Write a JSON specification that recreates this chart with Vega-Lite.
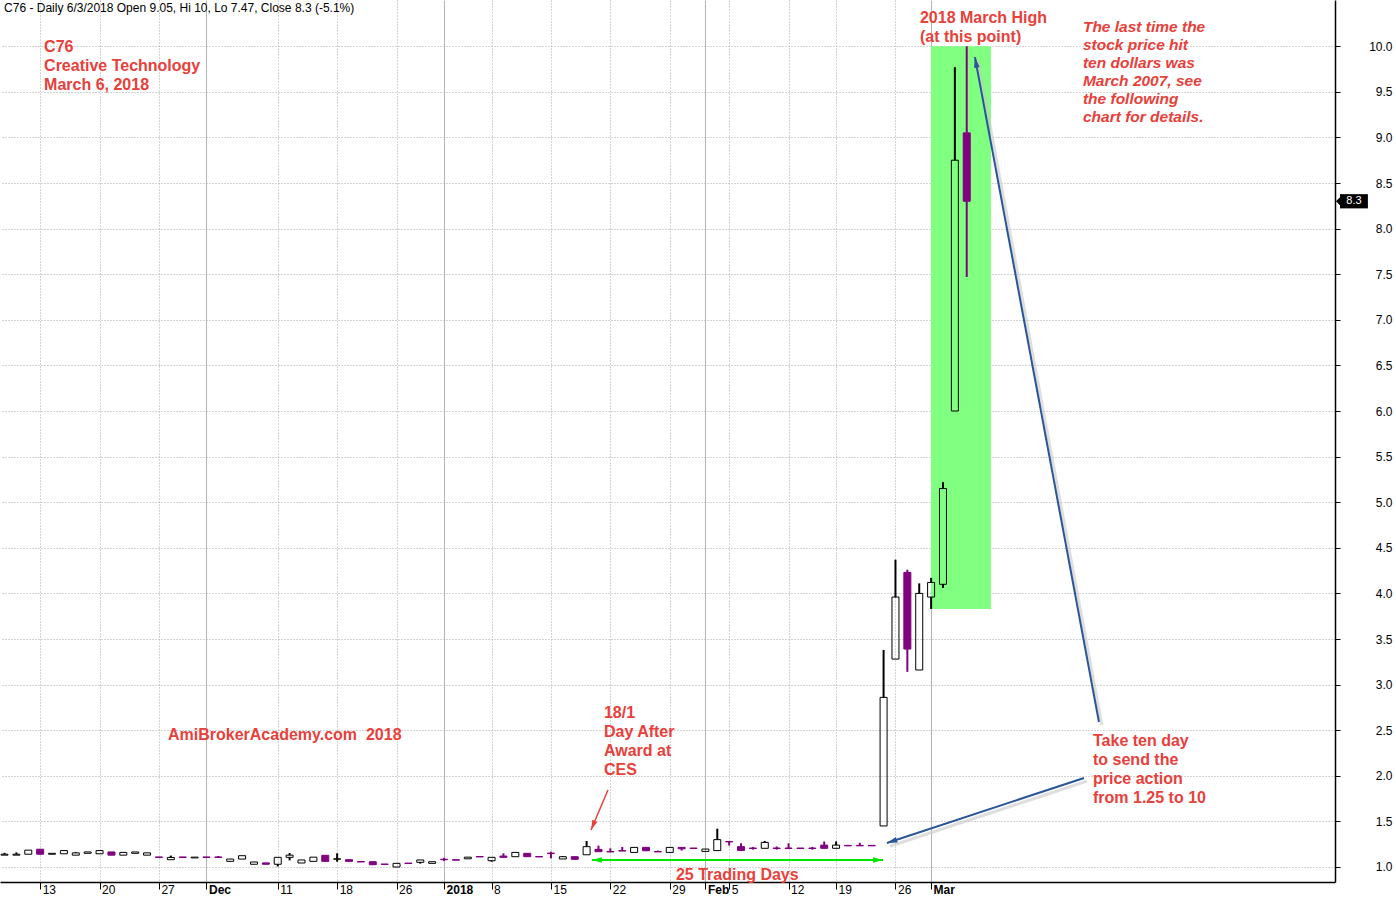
{
  "$schema": "https://vega.github.io/schema/vega-lite/v6.json",
  "width": 1335,
  "height": 882,
  "autosize": "none",
  "padding": {"left": 0, "top": 0, "right": 61, "bottom": 17},
  "background": "white",
  "config": {"view": {"stroke": null}, "font": "Liberation Sans", "scale": {"continuousPadding": 0}},
  "datasets": {
    "ohlc": [
      {"i":0,"date":"2017-11-08","o":1.13,"h":1.155,"l":1.13,"c":1.14},
      {"i":1,"date":"2017-11-09","o":1.13,"h":1.16,"l":1.13,"c":1.14},
      {"i":2,"date":"2017-11-10","o":1.14,"h":1.185,"l":1.14,"c":1.185},
      {"i":3,"date":"2017-11-13","o":1.195,"h":1.195,"l":1.14,"c":1.14},
      {"i":4,"date":"2017-11-14","o":1.14,"h":1.15,"l":1.14,"c":1.15},
      {"i":5,"date":"2017-11-15","o":1.145,"h":1.18,"l":1.145,"c":1.18},
      {"i":6,"date":"2017-11-16","o":1.13,"h":1.165,"l":1.13,"c":1.155},
      {"i":7,"date":"2017-11-17","o":1.15,"h":1.165,"l":1.15,"c":1.165},
      {"i":8,"date":"2017-11-20","o":1.145,"h":1.18,"l":1.145,"c":1.18},
      {"i":9,"date":"2017-11-21","o":1.165,"h":1.165,"l":1.13,"c":1.13},
      {"i":10,"date":"2017-11-22","o":1.13,"h":1.16,"l":1.13,"c":1.16},
      {"i":11,"date":"2017-11-23","o":1.15,"h":1.165,"l":1.15,"c":1.165},
      {"i":12,"date":"2017-11-24","o":1.13,"h":1.155,"l":1.13,"c":1.155},
      {"i":13,"date":"2017-11-27","o":1.11,"h":1.11,"l":1.105,"c":1.105},
      {"i":14,"date":"2017-11-28","o":1.08,"h":1.125,"l":1.08,"c":1.105},
      {"i":15,"date":"2017-11-29","o":1.11,"h":1.11,"l":1.105,"c":1.105},
      {"i":16,"date":"2017-11-30","o":1.1,"h":1.108,"l":1.1,"c":1.108},
      {"i":17,"date":"2017-12-01","o":1.11,"h":1.11,"l":1.105,"c":1.105},
      {"i":18,"date":"2017-12-04","o":1.11,"h":1.12,"l":1.105,"c":1.105},
      {"i":19,"date":"2017-12-05","o":1.062,"h":1.087,"l":1.062,"c":1.087},
      {"i":20,"date":"2017-12-06","o":1.087,"h":1.124,"l":1.087,"c":1.124},
      {"i":21,"date":"2017-12-07","o":1.03,"h":1.055,"l":1.03,"c":1.055},
      {"i":22,"date":"2017-12-08","o":1.045,"h":1.045,"l":1.03,"c":1.03},
      {"i":23,"date":"2017-12-11","o":1.03,"h":1.106,"l":1.005,"c":1.106},
      {"i":24,"date":"2017-12-12","o":1.106,"h":1.153,"l":1.073,"c":1.13},
      {"i":25,"date":"2017-12-13","o":1.044,"h":1.077,"l":1.044,"c":1.077},
      {"i":26,"date":"2017-12-14","o":1.062,"h":1.108,"l":1.062,"c":1.108},
      {"i":27,"date":"2017-12-15","o":1.128,"h":1.128,"l":1.062,"c":1.062},
      {"i":28,"date":"2017-12-18","o":1.085,"h":1.15,"l":1.058,"c":1.09},
      {"i":29,"date":"2017-12-19","o":1.08,"h":1.08,"l":1.062,"c":1.062},
      {"i":30,"date":"2017-12-20","o":1.06,"h":1.06,"l":1.055,"c":1.055},
      {"i":31,"date":"2017-12-21","o":1.058,"h":1.058,"l":1.025,"c":1.025},
      {"i":32,"date":"2017-12-22","o":1.033,"h":1.033,"l":1.028,"c":1.028},
      {"i":33,"date":"2017-12-26","o":1.0,"h":1.04,"l":1.0,"c":1.04},
      {"i":34,"date":"2017-12-27","o":1.043,"h":1.043,"l":1.038,"c":1.038},
      {"i":35,"date":"2017-12-28","o":1.051,"h":1.077,"l":1.037,"c":1.077},
      {"i":36,"date":"2017-12-29","o":1.04,"h":1.058,"l":1.04,"c":1.058},
      {"i":37,"date":"2018-01-02","o":1.085,"h":1.1,"l":1.065,"c":1.08},
      {"i":38,"date":"2018-01-03","o":1.08,"h":1.08,"l":1.075,"c":1.075},
      {"i":39,"date":"2018-01-04","o":1.09,"h":1.108,"l":1.09,"c":1.108},
      {"i":40,"date":"2018-01-05","o":1.115,"h":1.115,"l":1.11,"c":1.11},
      {"i":41,"date":"2018-01-08","o":1.069,"h":1.106,"l":1.058,"c":1.106},
      {"i":42,"date":"2018-01-09","o":1.12,"h":1.15,"l":1.106,"c":1.106},
      {"i":43,"date":"2018-01-10","o":1.113,"h":1.16,"l":1.113,"c":1.16},
      {"i":44,"date":"2018-01-11","o":1.15,"h":1.15,"l":1.113,"c":1.113},
      {"i":45,"date":"2018-01-12","o":1.115,"h":1.115,"l":1.11,"c":1.11},
      {"i":46,"date":"2018-01-15","o":1.152,"h":1.168,"l":1.095,"c":1.148},
      {"i":47,"date":"2018-01-16","o":1.088,"h":1.12,"l":1.088,"c":1.113},
      {"i":48,"date":"2018-01-17","o":1.113,"h":1.113,"l":1.084,"c":1.084},
      {"i":49,"date":"2018-01-18","o":1.134,"h":1.285,"l":1.134,"c":1.223},
      {"i":50,"date":"2018-01-19","o":1.193,"h":1.234,"l":1.168,"c":1.168},
      {"i":51,"date":"2018-01-22","o":1.17,"h":1.205,"l":1.165,"c":1.165},
      {"i":52,"date":"2018-01-23","o":1.18,"h":1.22,"l":1.175,"c":1.175},
      {"i":53,"date":"2018-01-24","o":1.16,"h":1.215,"l":1.16,"c":1.215},
      {"i":54,"date":"2018-01-25","o":1.215,"h":1.215,"l":1.178,"c":1.178},
      {"i":55,"date":"2018-01-26","o":1.17,"h":1.18,"l":1.165,"c":1.165},
      {"i":56,"date":"2018-01-29","o":1.16,"h":1.215,"l":1.16,"c":1.215},
      {"i":57,"date":"2018-01-30","o":1.215,"h":1.215,"l":1.18,"c":1.2},
      {"i":58,"date":"2018-01-31","o":1.208,"h":1.208,"l":1.203,"c":1.203},
      {"i":59,"date":"2018-02-01","o":1.171,"h":1.197,"l":1.171,"c":1.197},
      {"i":60,"date":"2018-02-02","o":1.18,"h":1.42,"l":1.18,"c":1.3},
      {"i":61,"date":"2018-02-05","o":1.28,"h":1.28,"l":1.235,"c":1.275},
      {"i":62,"date":"2018-02-06","o":1.223,"h":1.26,"l":1.182,"c":1.182},
      {"i":63,"date":"2018-02-07","o":1.208,"h":1.22,"l":1.19,"c":1.203},
      {"i":64,"date":"2018-02-08","o":1.205,"h":1.285,"l":1.205,"c":1.27},
      {"i":65,"date":"2018-02-09","o":1.208,"h":1.225,"l":1.19,"c":1.203},
      {"i":66,"date":"2018-02-12","o":1.208,"h":1.26,"l":1.203,"c":1.203},
      {"i":67,"date":"2018-02-13","o":1.208,"h":1.208,"l":1.203,"c":1.203},
      {"i":68,"date":"2018-02-14","o":1.208,"h":1.22,"l":1.19,"c":1.203},
      {"i":69,"date":"2018-02-15","o":1.24,"h":1.28,"l":1.205,"c":1.205},
      {"i":70,"date":"2018-02-19","o":1.205,"h":1.28,"l":1.205,"c":1.24},
      {"i":71,"date":"2018-02-20","o":1.237,"h":1.237,"l":1.232,"c":1.232},
      {"i":72,"date":"2018-02-21","o":1.237,"h":1.265,"l":1.232,"c":1.232},
      {"i":73,"date":"2018-02-22","o":1.237,"h":1.237,"l":1.232,"c":1.232},
      {"i":74,"date":"2018-02-23","o":1.45,"h":3.38,"l":1.45,"c":2.86},
      {"i":75,"date":"2018-02-26","o":3.28,"h":4.37,"l":3.28,"c":3.96},
      {"i":76,"date":"2018-02-27","o":4.23,"h":4.26,"l":3.14,"c":3.39},
      {"i":77,"date":"2018-02-28","o":3.16,"h":4.11,"l":3.16,"c":4.0},
      {"i":78,"date":"2018-03-01","o":3.96,"h":4.17,"l":3.83,"c":4.12},
      {"i":79,"date":"2018-03-02","o":4.1,"h":5.22,"l":4.06,"c":5.15},
      {"i":80,"date":"2018-03-05","o":6.0,"h":9.77,"l":6.0,"c":8.75},
      {"i":81,"date":"2018-03-06","o":9.05,"h":10.0,"l":7.47,"c":8.3}
    ]
  },
  "layer": [
    {
      "data": {"values": [{}]},
      "mark": {"type": "rect", "color": "#80FF80"},
      "encoding": {
        "x": {"datum": 77.99, "type": "quantitative", "scale": {"domain": [-0.38, 112], "nice": false, "zero": false, "padding": 0},
          "axis": {"title": null, "orient": "bottom",
            "values": [3,8,13,17,23,28,33,37,41,46,51,56,59,61,66,70,75,78],
            "labelExpr": "['13','20','27','Dec','11','18','26','2018','8','15','22','29','Feb','5','12','19','26','Mar'][indexof([3,8,13,17,23,28,33,37,41,46,51,56,59,61,66,70,75,78], datum.value)]",
            "grid": true,
            "gridColor": {"condition": {"test": "indexof([17,37,59,78], datum.value) >= 0", "value": "#B4B4B4"}, "value": "#A8A8A8"},
            "gridDash": {"condition": {"test": "indexof([17,37,59,78], datum.value) >= 0", "value": []}, "value": [1, 2]},
            "gridWidth": 1,
            "domainColor": "#000000", "domainWidth": 1.5,
            "tickColor": "#000000", "tickSize": 7,
            "labelAlign": "left", "labelBaseline": "top", "labelPadding": -5, "labelOffset": 2,
            "labelFont": "Liberation Sans", "labelFontSize": 12, "labelColor": "#000000",
            "labelFontWeight": {"condition": {"test": "indexof([17,37,59,78], datum.value) >= 0", "value": "bold"}, "value": "normal"},
            "labelFlush": false, "labelOverlap": false, "labelBound": false}},
        "x2": {"datum": 83.04},
        "y": {"datum": 3.83, "type": "quantitative", "scale": {"domain": [0.8355, 10.507], "nice": false, "zero": false, "padding": 0},
          "axis": {"title": null, "orient": "right",
            "values": [1,1.5,2,2.5,3,3.5,4,4.5,5,5.5,6,6.5,7,7.5,8,8.5,9,9.5,10],
            "format": ".1f",
            "grid": true, "gridColor": "#A8A8A8", "gridDash": [1, 2], "gridWidth": 1,
            "domainColor": "#000000", "domainWidth": 1.5,
            "tickColor": "#000000", "tickSize": 5,
            "labelAlign": "right", "labelPadding": 52, "labelBaseline": "middle",
            "labelFont": "Liberation Sans", "labelFontSize": 12, "labelColor": "#000000",
            "labelFlush": false, "labelOverlap": false, "labelBound": false}},
        "y2": {"datum": 10.0}
      }
    },
    {
      "data": {"name": "ohlc"},
      "transform": [{"filter": "datum.c >= datum.o"}],
      "mark": {"type": "rule", "color": "#000000", "strokeWidth": 2},
      "encoding": {
        "x": {"field": "i", "type": "quantitative", "title": null, "scale": {"domain": [-0.38, 112], "nice": false, "zero": false, "padding": 0}},
        "y": {"field": "h", "type": "quantitative", "title": null, "scale": {"domain": [0.8355, 10.507], "nice": false, "zero": false, "padding": 0}},
        "y2": {"field": "c"}
      }
    },
    {
      "data": {"name": "ohlc"},
      "transform": [{"filter": "datum.c >= datum.o"}],
      "mark": {"type": "rule", "color": "#000000", "strokeWidth": 2},
      "encoding": {
        "x": {"field": "i", "type": "quantitative", "title": null, "scale": {"domain": [-0.38, 112], "nice": false, "zero": false, "padding": 0}},
        "y": {"field": "l", "type": "quantitative", "title": null, "scale": {"domain": [0.8355, 10.507], "nice": false, "zero": false, "padding": 0}},
        "y2": {"field": "o"}
      }
    },
    {
      "data": {"name": "ohlc"},
      "transform": [{"filter": "datum.c < datum.o"}],
      "mark": {"type": "rule", "color": "#800080", "strokeWidth": 2},
      "encoding": {
        "x": {"field": "i", "type": "quantitative", "title": null, "scale": {"domain": [-0.38, 112], "nice": false, "zero": false, "padding": 0}},
        "y": {"field": "l", "type": "quantitative", "title": null, "scale": {"domain": [0.8355, 10.507], "nice": false, "zero": false, "padding": 0}},
        "y2": {"field": "h"}
      }
    },
    {
      "data": {"name": "ohlc"},
      "mark": {"type": "bar", "size": 7, "strokeWidth": 1},
      "encoding": {
        "x": {"field": "i", "type": "quantitative", "title": null, "scale": {"domain": [-0.38, 112], "nice": false, "zero": false, "padding": 0}},
        "y": {"field": "o", "type": "quantitative", "title": null, "scale": {"domain": [0.8355, 10.507], "nice": false, "zero": false, "padding": 0}},
        "y2": {"field": "c"},
        "fill": {"condition": {"test": "datum.c < datum.o", "value": "#800080"}, "value": "transparent"},
        "stroke": {"condition": {"test": "datum.c < datum.o", "value": "#800080"}, "value": "#000000"}
      }
    },
    {
      "data": {"values": [{}]},
      "mark": {"type": "rule", "color": "#C8C8C8", "strokeWidth": 3, "opacity": 0.6},
      "encoding": {
        "x": {"datum": 92.38, "type": "quantitative"}, "y": {"datum": 2.555, "type": "quantitative"},
        "x2": {"datum": 81.94}, "y2": {"datum": 9.845}
      }
    },
    {
      "data": {"values": [{}]},
      "mark": {"type": "rule", "color": "#C8C8C8", "strokeWidth": 3, "opacity": 0.6},
      "encoding": {
        "x": {"datum": 91.12, "type": "quantitative"}, "y": {"datum": 1.941, "type": "quantitative"},
        "x2": {"datum": 74.53}, "y2": {"datum": 1.228}
      }
    },
    {
      "data": {"values": [{}]},
      "mark": {"type": "rule", "color": "#2A5599", "strokeWidth": 2},
      "encoding": {
        "x": {"datum": 92.13, "type": "quantitative"}, "y": {"datum": 2.59, "type": "quantitative"},
        "x2": {"datum": 81.69}, "y2": {"datum": 9.88}
      }
    },
    {
      "data": {"values": [{}]},
      "mark": {"type": "rule", "color": "#2A5599", "strokeWidth": 2},
      "encoding": {
        "x": {"datum": 90.87, "type": "quantitative"}, "y": {"datum": 1.976, "type": "quantitative"},
        "x2": {"datum": 74.28}, "y2": {"datum": 1.263}
      }
    },
    {
      "data": {"values": [{}]},
      "mark": {"type": "rule", "color": "#E8403A", "strokeWidth": 1.5},
      "encoding": {
        "x": {"datum": 50.8, "type": "quantitative"}, "y": {"datum": 1.844, "type": "quantitative"},
        "x2": {"datum": 49.37}, "y2": {"datum": 1.406}
      }
    },
    {
      "data": {"values": [{}]},
      "mark": {"type": "rule", "color": "#00E600", "strokeWidth": 2},
      "encoding": {
        "x": {"datum": 49.45, "type": "quantitative"}, "y": {"datum": 1.077, "type": "quantitative"},
        "x2": {"datum": 73.95}
      }
    },
    {
      "data": {"values": [{}]},
      "mark": {"type": "point", "shape": "M0,0L0.6,2.2L-0.6,2.2Z", "size": 90, "filled": true, "color": "#2A5599", "opacity": 1, "angle": 349.5},
      "encoding": {"x": {"datum": 81.69, "type": "quantitative"}, "y": {"datum": 9.88, "type": "quantitative"}}
    },
    {
      "data": {"values": [{}]},
      "mark": {"type": "point", "shape": "M0,0L0.6,2.2L-0.6,2.2Z", "size": 90, "filled": true, "color": "#2A5599", "opacity": 1, "angle": 251.8},
      "encoding": {"x": {"datum": 74.28, "type": "quantitative"}, "y": {"datum": 1.263, "type": "quantitative"}}
    },
    {
      "data": {"values": [{}]},
      "mark": {"type": "point", "shape": "M0,0L0.6,2.2L-0.6,2.2Z", "size": 80, "filled": true, "color": "#E8403A", "opacity": 1, "angle": 203},
      "encoding": {"x": {"datum": 49.37, "type": "quantitative"}, "y": {"datum": 1.406, "type": "quantitative"}}
    },
    {
      "data": {"values": [{}]},
      "mark": {"type": "point", "shape": "M0,0L0.6,2.2L-0.6,2.2Z", "size": 80, "filled": true, "color": "#00E600", "opacity": 1, "angle": 270},
      "encoding": {"x": {"datum": 49.45, "type": "quantitative"}, "y": {"datum": 1.077, "type": "quantitative"}}
    },
    {
      "data": {"values": [{}]},
      "mark": {"type": "point", "shape": "M0,0L0.6,2.2L-0.6,2.2Z", "size": 80, "filled": true, "color": "#00E600", "opacity": 1, "angle": 90},
      "encoding": {"x": {"datum": 73.95, "type": "quantitative"}, "y": {"datum": 1.077, "type": "quantitative"}}
    },
    {
      "data": {"values": [{}]},
      "mark": {"type": "text", "text": "C76 - Daily 6/3/2018 Open 9.05, Hi 10, Lo 7.47, Close 8.3 (-5.1%)", "align": "left", "baseline": "middle", "font": "Liberation Sans", "fontSize": 12, "color": "#000000"},
      "encoding": {"x": {"datum": -0.04, "type": "quantitative"}, "y": {"datum": 10.419, "type": "quantitative"}}
    },
    {
      "data": {"values": [{}]},
      "mark": {"type": "text", "text": ["C76", "Creative Technology", "March 6, 2018"], "align": "left", "baseline": "middle", "lineHeight": 19, "font": "Liberation Sans", "fontSize": 16, "fontWeight": "bold", "color": "#E8403A"},
      "encoding": {"x": {"datum": 3.33, "type": "quantitative"}, "y": {"datum": 9.991, "type": "quantitative"}}
    },
    {
      "data": {"values": [{}]},
      "mark": {"type": "text", "text": ["2018 March High", "(at this point)"], "align": "left", "baseline": "middle", "lineHeight": 19, "font": "Liberation Sans", "fontSize": 16, "fontWeight": "bold", "color": "#E8403A"},
      "encoding": {"x": {"datum": 77.06, "type": "quantitative"}, "y": {"datum": 10.309, "type": "quantitative"}}
    },
    {
      "data": {"values": [{}]},
      "mark": {"type": "text", "text": ["The last time the", "stock price hit", "ten dollars was", "March 2007, see", "the following", "chart for details."], "align": "left", "baseline": "middle", "lineHeight": 18, "font": "Liberation Sans", "fontSize": 15.5, "fontWeight": "bold", "fontStyle": "italic", "color": "#E8403A"},
      "encoding": {"x": {"datum": 90.78, "type": "quantitative"}, "y": {"datum": 10.211, "type": "quantitative"}}
    },
    {
      "data": {"values": [{}]},
      "mark": {"type": "text", "text": "AmiBrokerAcademy.com\u00a0 2018", "align": "left", "baseline": "middle", "font": "Liberation Sans", "fontSize": 16, "fontWeight": "bold", "color": "#E8403A"},
      "encoding": {"x": {"datum": 13.76, "type": "quantitative"}, "y": {"datum": 2.447, "type": "quantitative"}}
    },
    {
      "data": {"values": [{}]},
      "mark": {"type": "text", "text": ["18/1", "Day After", "Award at", "CES"], "align": "left", "baseline": "middle", "lineHeight": 19, "font": "Liberation Sans", "fontSize": 16, "fontWeight": "bold", "color": "#E8403A"},
      "encoding": {"x": {"datum": 50.46, "type": "quantitative"}, "y": {"datum": 2.689, "type": "quantitative"}}
    },
    {
      "data": {"values": [{}]},
      "mark": {"type": "text", "text": ["Take ten day", "to send the", "price action", "from 1.25 to 10"], "align": "left", "baseline": "middle", "lineHeight": 19, "font": "Liberation Sans", "fontSize": 16, "fontWeight": "bold", "color": "#E8403A"},
      "encoding": {"x": {"datum": 91.63, "type": "quantitative"}, "y": {"datum": 2.382, "type": "quantitative"}}
    },
    {
      "data": {"values": [{}]},
      "mark": {"type": "text", "text": "25 Trading Days", "align": "left", "baseline": "middle", "font": "Liberation Sans", "fontSize": 16, "fontWeight": "bold", "color": "#E8403A"},
      "encoding": {"x": {"datum": 56.52, "type": "quantitative"}, "y": {"datum": 0.912, "type": "quantitative"}}
    },
    {
      "data": {"values": [{}]},
      "mark": {"type": "rect", "color": "#000000"},
      "encoding": {"x": {"datum": 112.42, "type": "quantitative"}, "x2": {"datum": 114.77}, "y": {"datum": 8.222, "type": "quantitative"}, "y2": {"datum": 8.378}}
    },
    {
      "data": {"values": [{}]},
      "mark": {"type": "point", "shape": "M-1,0L0.2,-1.2L0.2,1.2Z", "size": 50, "filled": true, "color": "#000000", "opacity": 1},
      "encoding": {"x": {"datum": 112.38, "type": "quantitative"}, "y": {"datum": 8.3, "type": "quantitative"}}
    },
    {
      "data": {"values": [{}]},
      "mark": {"type": "text", "text": "8.3", "align": "center", "baseline": "middle", "font": "Liberation Sans", "fontSize": 11, "color": "#FFFFFF"},
      "encoding": {"x": {"datum": 113.6, "type": "quantitative"}, "y": {"datum": 8.3, "type": "quantitative"}}
    }
  ]
}
